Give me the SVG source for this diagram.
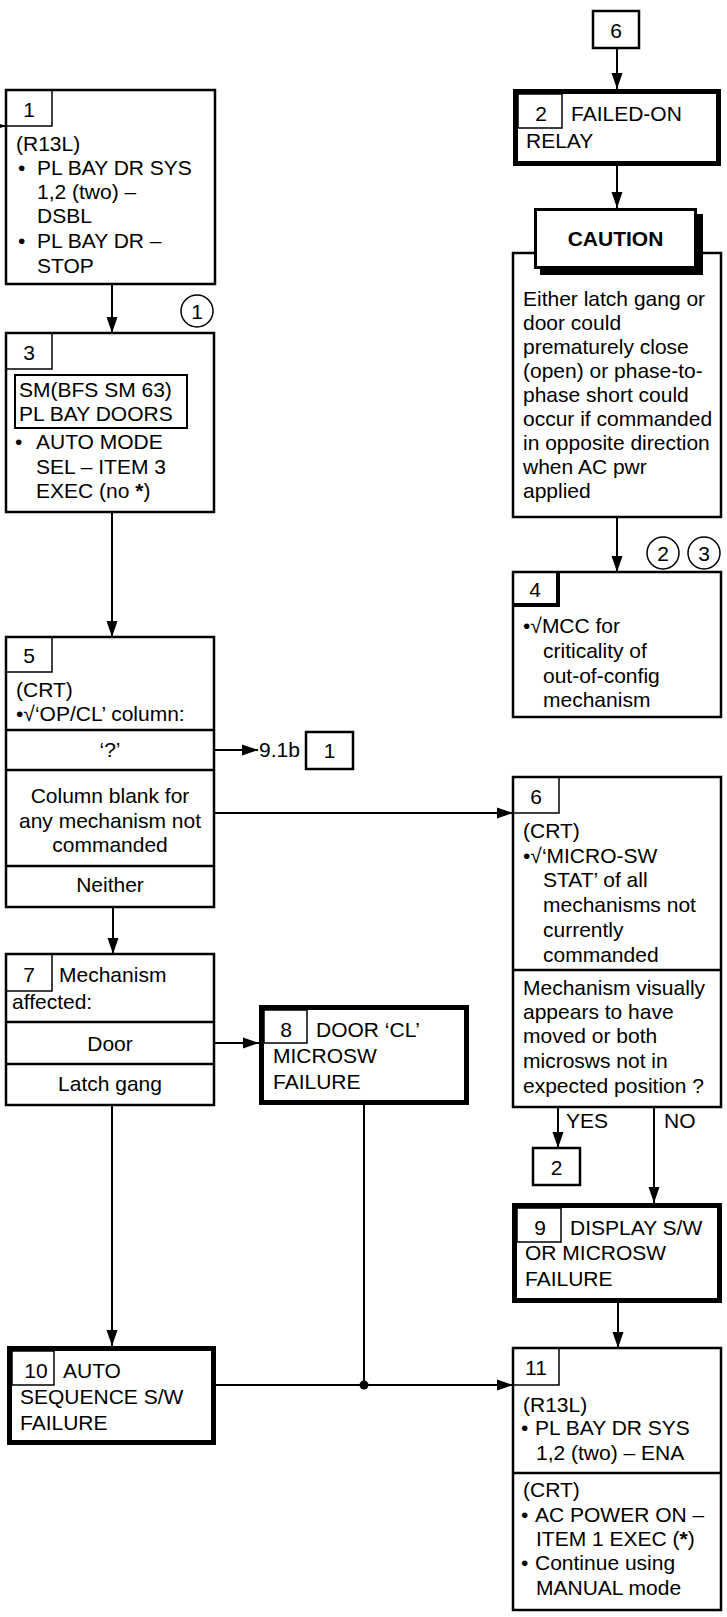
<svg xmlns="http://www.w3.org/2000/svg" width="727" height="1617" viewBox="0 0 727 1617">
<defs>
<marker id="ah" markerUnits="userSpaceOnUse" markerWidth="16" markerHeight="12" refX="16" refY="6" orient="auto">
<path d="M0,0.5 L16,6 L0,11.5 z" fill="#000"/>
</marker>
<style>
text{font-family:"Liberation Sans",Arial,sans-serif;font-size:21px;fill:#000}
.c{text-anchor:middle}
.b{font-weight:bold}
.box{fill:#fff;stroke:#000;stroke-width:2.5}
.thick{fill:#fff;stroke:#000;stroke-width:5}
.num{fill:none;stroke:#000;stroke-width:1.5}
.div{stroke:#000;stroke-width:2.5}
.ln{fill:none;stroke:#000;stroke-width:2}
.arr{fill:none;stroke:#000;stroke-width:2;marker-end:url(#ah)}
.circ{fill:#fff;stroke:#000;stroke-width:1.5}
</style>
</defs>
<rect width="727" height="1617" fill="#fff"/>

<g id="connectors">
<line class="arr" x1="-5" y1="126" x2="6" y2="126"/>
<line class="arr" x1="112" y1="284" x2="112" y2="333"/>
<line class="arr" x1="112" y1="512" x2="112" y2="637"/>
<line class="arr" x1="214" y1="750" x2="258" y2="750"/>
<line class="arr" x1="214" y1="813" x2="513" y2="813"/>
<line class="arr" x1="113" y1="907" x2="113" y2="954"/>
<line class="arr" x1="214" y1="1043" x2="259" y2="1043"/>
<line class="arr" x1="112" y1="1105" x2="112" y2="1346"/>
<line class="ln" x1="364" y1="1105" x2="364" y2="1385"/>
<line class="arr" x1="216" y1="1385" x2="513" y2="1385"/>
<circle cx="364" cy="1385" r="4.5" fill="#000"/>
<line class="arr" x1="617" y1="48" x2="617" y2="89"/>
<line class="arr" x1="617" y1="166" x2="617" y2="208"/>
<line class="arr" x1="617" y1="517" x2="617" y2="572"/>
<line class="arr" x1="558" y1="1107" x2="558" y2="1148"/>
<line class="arr" x1="654" y1="1107" x2="654" y2="1203"/>
<line class="arr" x1="618" y1="1303" x2="618" y2="1348"/>
<text x="566" y="1128">YES</text>
<text x="664" y="1128">NO</text>
</g>

<g id="ref-9-1b-1">
<text x="259" y="757">9.1b</text>
<rect class="box" x="306" y="732" width="47" height="37" stroke-width="2"/>
<text class="c" x="329.5" y="758">1</text>
</g>

<g id="ref-6">
<rect class="box" x="593" y="11" width="46" height="37" stroke-width="2"/>
<text class="c" x="616" y="38">6</text>
</g>

<g id="ref-2">
<rect class="box" x="533" y="1148" width="47" height="37" stroke-width="2"/>
<text class="c" x="556.5" y="1175">2</text>
</g>

<g id="circle-1">
<circle class="circ" cx="197" cy="311" r="16"/>
<text class="c" x="197" y="318.5">1</text>
</g>
<g id="circle-2">
<circle class="circ" cx="663" cy="553" r="16"/>
<text class="c" x="663" y="560.5">2</text>
</g>
<g id="circle-3">
<circle class="circ" cx="704" cy="553" r="16"/>
<text class="c" x="704" y="560.5">3</text>
</g>

<g id="node-1">
<rect class="box" x="6" y="90" width="209" height="194"/>
<rect class="num" x="6" y="90" width="46" height="36"/>
<text class="c" x="29" y="117">1</text>
<text x="16" y="151">(R13L)</text>
<text x="18" y="175">•</text>
<text x="37" y="175">PL BAY DR SYS</text>
<text x="37" y="199">1,2 (two) –</text>
<text x="37" y="223">DSBL</text>
<text x="18" y="248">•</text>
<text x="37" y="248">PL BAY DR –</text>
<text x="37" y="273">STOP</text>
</g>

<g id="node-3">
<rect class="box" x="6" y="333" width="208" height="179"/>
<rect class="num" x="6" y="333" width="46" height="36"/>
<text class="c" x="29" y="360">3</text>
<rect x="15" y="375" width="172" height="53" fill="none" stroke="#000" stroke-width="2"/>
<text x="19" y="397">SM(BFS SM 63)</text>
<text x="19" y="421">PL BAY DOORS</text>
<text x="15" y="449">•</text>
<text x="36" y="449">AUTO MODE</text>
<text x="36" y="474">SEL – ITEM 3</text>
<text x="36" y="498">EXEC (no <tspan class="b">*</tspan>)</text>
</g>

<g id="node-5">
<rect class="box" x="6" y="637" width="208" height="270"/>
<rect class="num" x="6" y="637" width="46" height="35"/>
<text class="c" x="29" y="663">5</text>
<text x="16" y="697">(CRT)</text>
<text x="16" y="721">•√‘OP/CL’ column:</text>
<line class="div" x1="6" y1="730" x2="214" y2="730"/>
<text class="c" x="110" y="757">‘?’</text>
<line class="div" x1="6" y1="770" x2="214" y2="770"/>
<text class="c" x="110" y="803">Column blank for</text>
<text class="c" x="110" y="828">any mechanism not</text>
<text class="c" x="110" y="852">commanded</text>
<line class="div" x1="6" y1="866" x2="214" y2="866"/>
<text class="c" x="110" y="892">Neither</text>
</g>

<g id="node-7">
<rect class="box" x="6" y="954" width="208" height="151"/>
<rect class="num" x="6" y="954" width="46" height="37"/>
<text class="c" x="29" y="982">7</text>
<text x="59" y="982">Mechanism</text>
<text x="12" y="1009">affected:</text>
<line class="div" x1="6" y1="1022" x2="214" y2="1022"/>
<text class="c" x="110" y="1051">Door</text>
<line class="div" x1="6" y1="1064" x2="214" y2="1064"/>
<text class="c" x="110" y="1091">Latch gang</text>
</g>

<g id="node-8">
<rect class="thick" x="261.5" y="1007.5" width="205" height="95"/>
<rect class="num" x="264" y="1010" width="43" height="33"/>
<text class="c" x="286" y="1037">8</text>
<text x="316" y="1037">DOOR ‘CL’</text>
<text x="273" y="1063">MICROSW</text>
<text x="273" y="1089">FAILURE</text>
</g>

<g id="node-10">
<rect class="thick" x="9.5" y="1348.5" width="204" height="94"/>
<rect class="num" x="12" y="1351" width="42" height="34"/>
<text class="c" x="36" y="1378">10</text>
<text x="63" y="1378">AUTO</text>
<text x="20" y="1404">SEQUENCE S/W</text>
<text x="20" y="1430">FAILURE</text>
</g>

<g id="node-2">
<rect class="thick" x="515.5" y="91.5" width="203" height="72"/>
<rect class="num" x="518" y="94" width="44" height="34"/>
<text class="c" x="541" y="121">2</text>
<text x="571" y="121">FAILED-ON</text>
<text x="526" y="148">RELAY</text>
</g>

<g id="caution">
<rect class="box" x="513" y="253" width="208" height="264"/>
<rect x="540" y="214" width="163" height="61" fill="#000"/>
<rect x="535.5" y="209.5" width="160" height="58" fill="#fff" stroke="#000" stroke-width="3"/>
<text class="c b" x="615.5" y="246">CAUTION</text>
<text x="523" y="306">Either latch gang or</text>
<text x="523" y="330">door could</text>
<text x="523" y="354">prematurely close</text>
<text x="523" y="378">(open) or phase-to-</text>
<text x="523" y="402">phase short could</text>
<text x="523" y="426">occur if commanded</text>
<text x="523" y="450">in opposite direction</text>
<text x="523" y="474">when AC pwr</text>
<text x="523" y="498">applied</text>
</g>

<g id="node-4">
<rect class="box" x="513" y="572" width="208" height="145"/>
<path d="M513,605 H558 V572" fill="none" stroke="#000" stroke-width="4"/>
<text class="c" x="535" y="597">4</text>
<text x="523" y="633">•√MCC for</text>
<text x="543" y="658">criticality of</text>
<text x="543" y="683">out-of-config</text>
<text x="543" y="707">mechanism</text>
</g>

<g id="node-6">
<rect class="box" x="513" y="777" width="208" height="330"/>
<rect class="num" x="513" y="777" width="46" height="36"/>
<text class="c" x="536" y="804">6</text>
<text x="523" y="838">(CRT)</text>
<text x="523" y="863">•√‘MICRO-SW</text>
<text x="543" y="887">STAT’ of all</text>
<text x="543" y="912">mechanisms not</text>
<text x="543" y="937">currently</text>
<text x="543" y="962">commanded</text>
<line class="div" x1="513" y1="970" x2="721" y2="970"/>
<text x="523" y="995">Mechanism visually</text>
<text x="523" y="1019">appears to have</text>
<text x="523" y="1043">moved or both</text>
<text x="523" y="1068">microsws not in</text>
<text x="523" y="1093">expected position ?</text>
</g>

<g id="node-9">
<rect class="thick" x="514.5" y="1205.5" width="205" height="95"/>
<rect class="num" x="517" y="1208" width="44" height="34"/>
<text class="c" x="540" y="1235">9</text>
<text x="570" y="1235">DISPLAY S/W</text>
<text x="525" y="1260">OR MICROSW</text>
<text x="525" y="1286">FAILURE</text>
</g>

<g id="node-11">
<rect class="box" x="513" y="1348" width="208" height="262"/>
<rect class="num" x="513" y="1348" width="46" height="37"/>
<text class="c" x="536" y="1375">11</text>
<text x="523" y="1412">(R13L)</text>
<text x="521" y="1435">•</text>
<text x="535" y="1435">PL BAY DR SYS</text>
<text x="536" y="1460">1,2 (two) – ENA</text>
<line class="div" x1="513" y1="1473" x2="721" y2="1473"/>
<text x="523" y="1497">(CRT)</text>
<text x="521" y="1522">•</text>
<text x="535" y="1522">AC POWER ON –</text>
<text x="536" y="1546">ITEM 1 EXEC (<tspan class="b">*</tspan>)</text>
<text x="521" y="1570">•</text>
<text x="535" y="1570">Continue using</text>
<text x="536" y="1595">MANUAL mode</text>
</g>
</svg>
